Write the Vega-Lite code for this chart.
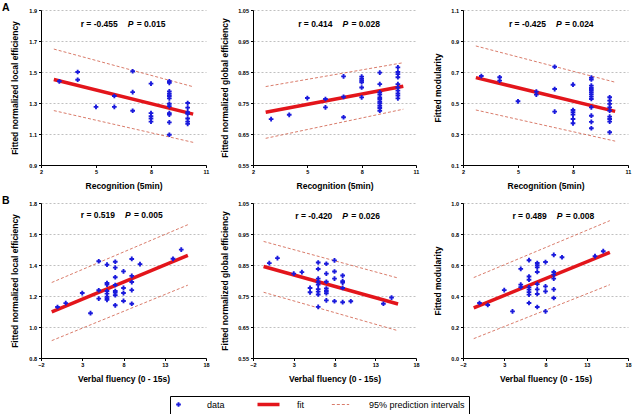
{
  "$schema": "https://vega.github.io/schema/vega-lite/v6.json",
  "padding": {"left": 2, "top": 2, "right": 2, "bottom": 1},
  "autosize": {"type": "pad"},
  "background": "white",
  "config": {
    "font": "Liberation Sans",
    "view": {"stroke": null},
    "axis": {
      "domainColor": "black", "domainWidth": 1, "tickColor": "black", "tickSize": 2.5, "tickWidth": 1,
      "labelFont": "Liberation Sans", "labelFontSize": 5.5, "labelFontWeight": "bold", "labelColor": "black", "labelPadding": 2,
      "labelFlush": false, "labelOverlap": false, "tickCount": 10,
      "titleFont": "Liberation Sans", "titleFontSize": 8.5, "titleFontWeight": "bold", "titleColor": "black",
      "grid": false
    },
    "axisY": {"grid": true, "gridDash": [2, 2], "gridColor": "#b0b0b0", "gridWidth": 0.8, "titlePadding": 8},
    "axisX": {"titlePadding": 6},
    "title": {"font": "Liberation Sans", "fontSize": 10.5, "fontWeight": "bold", "color": "black", "anchor": "start", "frame": "group", "offset": -5}
  },
  "datasets": {
    "points": [
      {"panel": "A1", "x": 3, "y": 1.44},
      {"panel": "A1", "x": 4, "y": 1.50}, {"panel": "A1", "x": 4, "y": 1.45},
      {"panel": "A1", "x": 5, "y": 1.275},
      {"panel": "A1", "x": 6, "y": 1.345}, {"panel": "A1", "x": 6, "y": 1.275},
      {"panel": "A1", "x": 7, "y": 1.505}, {"panel": "A1", "x": 7, "y": 1.37}, {"panel": "A1", "x": 7, "y": 1.25},
      {"panel": "A1", "x": 8, "y": 1.425}, {"panel": "A1", "x": 8, "y": 1.235}, {"panel": "A1", "x": 8, "y": 1.215}, {"panel": "A1", "x": 8, "y": 1.20}, {"panel": "A1", "x": 8, "y": 1.18},
      {"panel": "A1", "x": 9, "y": 1.44}, {"panel": "A1", "x": 9, "y": 1.43}, {"panel": "A1", "x": 9, "y": 1.375}, {"panel": "A1", "x": 9, "y": 1.36}, {"panel": "A1", "x": 9, "y": 1.345}, {"panel": "A1", "x": 9, "y": 1.33}, {"panel": "A1", "x": 9, "y": 1.295}, {"panel": "A1", "x": 9, "y": 1.28}, {"panel": "A1", "x": 9, "y": 1.235}, {"panel": "A1", "x": 9, "y": 1.225}, {"panel": "A1", "x": 9, "y": 1.175}, {"panel": "A1", "x": 9, "y": 1.095},
      {"panel": "A1", "x": 10, "y": 1.30}, {"panel": "A1", "x": 10, "y": 1.27}, {"panel": "A1", "x": 10, "y": 1.24}, {"panel": "A1", "x": 10, "y": 1.23}, {"panel": "A1", "x": 10, "y": 1.20}, {"panel": "A1", "x": 10, "y": 1.18}, {"panel": "A1", "x": 10, "y": 1.165},

      {"panel": "A2", "x": 3, "y": 0.698},
      {"panel": "A2", "x": 4, "y": 0.712},
      {"panel": "A2", "x": 5, "y": 0.766},
      {"panel": "A2", "x": 6, "y": 0.763}, {"panel": "A2", "x": 6, "y": 0.736},
      {"panel": "A2", "x": 7, "y": 0.836}, {"panel": "A2", "x": 7, "y": 0.770}, {"panel": "A2", "x": 7, "y": 0.704},
      {"panel": "A2", "x": 8, "y": 0.835}, {"panel": "A2", "x": 8, "y": 0.828}, {"panel": "A2", "x": 8, "y": 0.822}, {"panel": "A2", "x": 8, "y": 0.817}, {"panel": "A2", "x": 8, "y": 0.800}, {"panel": "A2", "x": 8, "y": 0.768},
      {"panel": "A2", "x": 9, "y": 0.848}, {"panel": "A2", "x": 9, "y": 0.811}, {"panel": "A2", "x": 9, "y": 0.784}, {"panel": "A2", "x": 9, "y": 0.777}, {"panel": "A2", "x": 9, "y": 0.768}, {"panel": "A2", "x": 9, "y": 0.763}, {"panel": "A2", "x": 9, "y": 0.755}, {"panel": "A2", "x": 9, "y": 0.749}, {"panel": "A2", "x": 9, "y": 0.741}, {"panel": "A2", "x": 9, "y": 0.734}, {"panel": "A2", "x": 9, "y": 0.725},
      {"panel": "A2", "x": 10, "y": 0.865}, {"panel": "A2", "x": 10, "y": 0.850}, {"panel": "A2", "x": 10, "y": 0.843}, {"panel": "A2", "x": 10, "y": 0.833}, {"panel": "A2", "x": 10, "y": 0.811}, {"panel": "A2", "x": 10, "y": 0.800}, {"panel": "A2", "x": 10, "y": 0.790}, {"panel": "A2", "x": 10, "y": 0.781}, {"panel": "A2", "x": 10, "y": 0.774}, {"panel": "A2", "x": 10, "y": 0.765},

      {"panel": "A3", "x": 3, "y": 0.674},
      {"panel": "A3", "x": 4, "y": 0.666}, {"panel": "A3", "x": 4, "y": 0.644},
      {"panel": "A3", "x": 5, "y": 0.511},
      {"panel": "A3", "x": 6, "y": 0.573}, {"panel": "A3", "x": 6, "y": 0.554},
      {"panel": "A3", "x": 7, "y": 0.734}, {"panel": "A3", "x": 7, "y": 0.590}, {"panel": "A3", "x": 7, "y": 0.444},
      {"panel": "A3", "x": 8, "y": 0.618}, {"panel": "A3", "x": 8, "y": 0.455}, {"panel": "A3", "x": 8, "y": 0.440}, {"panel": "A3", "x": 8, "y": 0.425}, {"panel": "A3", "x": 8, "y": 0.397}, {"panel": "A3", "x": 8, "y": 0.369},
      {"panel": "A3", "x": 9, "y": 0.664}, {"panel": "A3", "x": 9, "y": 0.652}, {"panel": "A3", "x": 9, "y": 0.612}, {"panel": "A3", "x": 9, "y": 0.597}, {"panel": "A3", "x": 9, "y": 0.584}, {"panel": "A3", "x": 9, "y": 0.569}, {"panel": "A3", "x": 9, "y": 0.556}, {"panel": "A3", "x": 9, "y": 0.541}, {"panel": "A3", "x": 9, "y": 0.526}, {"panel": "A3", "x": 9, "y": 0.472}, {"panel": "A3", "x": 9, "y": 0.418}, {"panel": "A3", "x": 9, "y": 0.378}, {"panel": "A3", "x": 9, "y": 0.337},
      {"panel": "A3", "x": 10, "y": 0.537}, {"panel": "A3", "x": 10, "y": 0.515}, {"panel": "A3", "x": 10, "y": 0.494}, {"panel": "A3", "x": 10, "y": 0.472}, {"panel": "A3", "x": 10, "y": 0.451}, {"panel": "A3", "x": 10, "y": 0.412}, {"panel": "A3", "x": 10, "y": 0.397}, {"panel": "A3", "x": 10, "y": 0.380}, {"panel": "A3", "x": 10, "y": 0.311},

      {"panel": "B1", "x": 0, "y": 1.129}, {"panel": "B1", "x": 1, "y": 1.154}, {"panel": "B1", "x": 3, "y": 1.219}, {"panel": "B1", "x": 4, "y": 1.089},
      {"panel": "B1", "x": 5, "y": 1.424}, {"panel": "B1", "x": 5, "y": 1.237}, {"panel": "B1", "x": 5, "y": 1.183},
      {"panel": "B1", "x": 6, "y": 1.402}, {"panel": "B1", "x": 6, "y": 1.284}, {"panel": "B1", "x": 6, "y": 1.273}, {"panel": "B1", "x": 6, "y": 1.232}, {"panel": "B1", "x": 6, "y": 1.215}, {"panel": "B1", "x": 6, "y": 1.195}, {"panel": "B1", "x": 6, "y": 1.185}, {"panel": "B1", "x": 6, "y": 1.175},
      {"panel": "B1", "x": 7, "y": 1.421}, {"panel": "B1", "x": 7, "y": 1.383}, {"panel": "B1", "x": 7, "y": 1.321}, {"panel": "B1", "x": 7, "y": 1.271}, {"panel": "B1", "x": 7, "y": 1.232}, {"panel": "B1", "x": 7, "y": 1.222}, {"panel": "B1", "x": 7, "y": 1.205}, {"panel": "B1", "x": 7, "y": 1.140},
      {"panel": "B1", "x": 8, "y": 1.359}, {"panel": "B1", "x": 8, "y": 1.252}, {"panel": "B1", "x": 8, "y": 1.219}, {"panel": "B1", "x": 8, "y": 1.168},
      {"panel": "B1", "x": 9, "y": 1.439}, {"panel": "B1", "x": 9, "y": 1.330}, {"panel": "B1", "x": 9, "y": 1.290}, {"panel": "B1", "x": 9, "y": 1.238}, {"panel": "B1", "x": 9, "y": 1.150},
      {"panel": "B1", "x": 10, "y": 1.406}, {"panel": "B1", "x": 14, "y": 1.440}, {"panel": "B1", "x": 15, "y": 1.499},

      {"panel": "B2", "x": 0, "y": 0.856}, {"panel": "B2", "x": 1, "y": 0.872}, {"panel": "B2", "x": 3, "y": 0.822}, {"panel": "B2", "x": 4, "y": 0.827},
      {"panel": "B2", "x": 5, "y": 0.776}, {"panel": "B2", "x": 5, "y": 0.762},
      {"panel": "B2", "x": 6, "y": 0.858}, {"panel": "B2", "x": 6, "y": 0.837}, {"panel": "B2", "x": 6, "y": 0.806}, {"panel": "B2", "x": 6, "y": 0.796}, {"panel": "B2", "x": 6, "y": 0.787}, {"panel": "B2", "x": 6, "y": 0.772}, {"panel": "B2", "x": 6, "y": 0.764}, {"panel": "B2", "x": 6, "y": 0.755}, {"panel": "B2", "x": 6, "y": 0.715},
      {"panel": "B2", "x": 7, "y": 0.854}, {"panel": "B2", "x": 7, "y": 0.822}, {"panel": "B2", "x": 7, "y": 0.796}, {"panel": "B2", "x": 7, "y": 0.774}, {"panel": "B2", "x": 7, "y": 0.766}, {"panel": "B2", "x": 7, "y": 0.759}, {"panel": "B2", "x": 7, "y": 0.736},
      {"panel": "B2", "x": 8, "y": 0.865}, {"panel": "B2", "x": 8, "y": 0.829}, {"panel": "B2", "x": 8, "y": 0.806}, {"panel": "B2", "x": 8, "y": 0.733},
      {"panel": "B2", "x": 9, "y": 0.816}, {"panel": "B2", "x": 9, "y": 0.798}, {"panel": "B2", "x": 9, "y": 0.793}, {"panel": "B2", "x": 9, "y": 0.776}, {"panel": "B2", "x": 9, "y": 0.730},
      {"panel": "B2", "x": 10, "y": 0.733}, {"panel": "B2", "x": 14, "y": 0.725}, {"panel": "B2", "x": 15, "y": 0.745},

      {"panel": "B3", "x": 0, "y": 0.355}, {"panel": "B3", "x": 1, "y": 0.342}, {"panel": "B3", "x": 3, "y": 0.438}, {"panel": "B3", "x": 4, "y": 0.301},
      {"panel": "B3", "x": 5, "y": 0.575}, {"panel": "B3", "x": 5, "y": 0.473}, {"panel": "B3", "x": 5, "y": 0.457},
      {"panel": "B3", "x": 6, "y": 0.631}, {"panel": "B3", "x": 6, "y": 0.526}, {"panel": "B3", "x": 6, "y": 0.505}, {"panel": "B3", "x": 6, "y": 0.456}, {"panel": "B3", "x": 6, "y": 0.441}, {"panel": "B3", "x": 6, "y": 0.425}, {"panel": "B3", "x": 6, "y": 0.409}, {"panel": "B3", "x": 6, "y": 0.355},
      {"panel": "B3", "x": 7, "y": 0.613}, {"panel": "B3", "x": 7, "y": 0.598}, {"panel": "B3", "x": 7, "y": 0.585}, {"panel": "B3", "x": 7, "y": 0.555}, {"panel": "B3", "x": 7, "y": 0.477}, {"panel": "B3", "x": 7, "y": 0.443}, {"panel": "B3", "x": 7, "y": 0.413}, {"panel": "B3", "x": 7, "y": 0.329},
      {"panel": "B3", "x": 8, "y": 0.619}, {"panel": "B3", "x": 8, "y": 0.462}, {"panel": "B3", "x": 8, "y": 0.430}, {"panel": "B3", "x": 8, "y": 0.301},
      {"panel": "B3", "x": 9, "y": 0.665}, {"panel": "B3", "x": 9, "y": 0.555}, {"panel": "B3", "x": 9, "y": 0.538}, {"panel": "B3", "x": 9, "y": 0.512}, {"panel": "B3", "x": 9, "y": 0.443}, {"panel": "B3", "x": 9, "y": 0.387},
      {"panel": "B3", "x": 10, "y": 0.650}, {"panel": "B3", "x": 14, "y": 0.657}, {"panel": "B3", "x": 15, "y": 0.689}
    ],
    "lines": [
      {"panel": "A1", "band": "fit", "x": 2.7, "y": 1.452}, {"panel": "A1", "band": "fit", "x": 10.3, "y": 1.228},
      {"panel": "A1", "band": "upper", "x": 2.7, "y": 1.648}, {"panel": "A1", "band": "upper", "x": 10.3, "y": 1.405},
      {"panel": "A1", "band": "lower", "x": 2.7, "y": 1.251}, {"panel": "A1", "band": "lower", "x": 10.3, "y": 1.046},
      {"panel": "A2", "band": "fit", "x": 2.7, "y": 0.720}, {"panel": "A2", "band": "fit", "x": 10.3, "y": 0.804},
      {"panel": "A2", "band": "upper", "x": 2.7, "y": 0.803}, {"panel": "A2", "band": "upper", "x": 10.3, "y": 0.880},
      {"panel": "A2", "band": "lower", "x": 2.7, "y": 0.636}, {"panel": "A2", "band": "lower", "x": 10.3, "y": 0.730},
      {"panel": "A3", "band": "fit", "x": 2.7, "y": 0.664}, {"panel": "A3", "band": "fit", "x": 10.3, "y": 0.446},
      {"panel": "A3", "band": "upper", "x": 2.7, "y": 0.868}, {"panel": "A3", "band": "upper", "x": 10.3, "y": 0.634},
      {"panel": "A3", "band": "lower", "x": 2.7, "y": 0.455}, {"panel": "A3", "band": "lower", "x": 10.3, "y": 0.254},
      {"panel": "B1", "band": "fit", "x": -0.7, "y": 1.098}, {"panel": "B1", "band": "fit", "x": 15.8, "y": 1.462},
      {"panel": "B1", "band": "upper", "x": -0.7, "y": 1.287}, {"panel": "B1", "band": "upper", "x": 15.8, "y": 1.660},
      {"panel": "B1", "band": "lower", "x": -0.7, "y": 0.912}, {"panel": "B1", "band": "lower", "x": 15.8, "y": 1.270},
      {"panel": "B2", "band": "fit", "x": -0.7, "y": 0.845}, {"panel": "B2", "band": "fit", "x": 15.8, "y": 0.724},
      {"panel": "B2", "band": "upper", "x": -0.7, "y": 0.926}, {"panel": "B2", "band": "upper", "x": 15.8, "y": 0.808},
      {"panel": "B2", "band": "lower", "x": -0.7, "y": 0.762}, {"panel": "B2", "band": "lower", "x": 15.8, "y": 0.638},
      {"panel": "B3", "band": "fit", "x": -0.7, "y": 0.324}, {"panel": "B3", "band": "fit", "x": 15.8, "y": 0.681},
      {"panel": "B3", "band": "upper", "x": -0.7, "y": 0.519}, {"panel": "B3", "band": "upper", "x": 15.8, "y": 0.886},
      {"panel": "B3", "band": "lower", "x": -0.7, "y": 0.125}, {"panel": "B3", "band": "lower", "x": 15.8, "y": 0.473}
    ],
    "stats": [
      {"panel": "A1", "r": "r = -0.455", "p": "= 0.015"},
      {"panel": "A2", "r": "r = 0.414", "p": "= 0.028"},
      {"panel": "A3", "r": "r = -0.425", "p": "= 0.024"},
      {"panel": "B1", "r": "r = 0.519", "p": "= 0.005"},
      {"panel": "B2", "r": "r = -0.420", "p": "= 0.026"},
      {"panel": "B3", "r": "r = 0.489", "p": "= 0.008"}
    ]
  },
  "resolve": {"scale": {"color": "shared", "x": "independent", "y": "independent"}, "legend": {"color": "shared"}},
  "spacing": 5,
  "vconcat": [
    {
      "title": {"text": "A", "dx": -39},
      "bounds": "flush",
      "spacing": 47,
      "resolve": {"scale": {"color": "shared", "x": "independent", "y": "independent"}, "legend": {"color": "shared"}},
      "hconcat": [
        {
          "width": 165, "height": 155,
          "layer": [
            {"data": {"name": "lines"}, "transform": [{"filter": "datum.panel === 'A1' && datum.band !== 'fit'"}],
             "mark": {"type": "line", "strokeWidth": 0.8, "strokeDash": [3, 2]},
             "encoding": {
               "x": {"field": "x", "type": "quantitative", "scale": {"domain": [2, 11], "nice": false, "zero": false}, "axis": {"values": [2, 5, 8, 11], "tickCount": 10, "title": "Recognition (5min)"}},
               "y": {"field": "y", "type": "quantitative", "scale": {"domain": [0.9, 1.9], "nice": false, "zero": false}, "axis": {"values": [0.9, 1.1, 1.3, 1.5, 1.7, 1.9], "tickCount": 10, "format": ".1f", "title": "Fitted normalized local efficiency", "titlePadding": 9}},
               "detail": {"field": "band"},
               "color": {"datum": "95% prediction intervals", "scale": {"domain": ["data", "fit", "95% prediction intervals"], "range": ["#1a1adc", "#e3151b", "#cf5a45"]},
                 "legend": {
                   "title": null, "orient": "none", "legendX": 129, "legendY": 386, "direction": "horizontal", "columns": 3,
                   "strokeColor": "black", "padding": 4, "labelFont": "Liberation Sans", "labelFontSize": 9, "labelColor": "black",
                   "symbolSize": 484, "labelOffset": 24, "columnPadding": 25, "gridAlign": "none",
                   "encode": {"symbols": {"update": {
                     "shape": {"signal": "datum.value === 'data' ? 'cross' : 'stroke'"},
                     "size": {"signal": "datum.value === 'data' ? 22 : (datum.value === 'fit' ? 484 : 300)"},
                     "strokeWidth": {"signal": "datum.value === 'fit' ? 3.5 : (datum.value === 'data' ? 0 : 0.8)"},
                     "strokeDash": {"signal": "datum.value === '95% prediction intervals' ? [3, 2] : [1, 0]"},
                     "fill": {"signal": "datum.value === 'data' ? '#1a1adc' : 'transparent'"},
                     "stroke": {"signal": "datum.value === 'data' ? 'transparent' : (datum.value === 'fit' ? '#e3151b' : '#cf5a45')"},
                     "opacity": {"value": 1}
                   }}}
                 }}
             }},
            {"data": {"name": "lines"}, "transform": [{"filter": "datum.panel === 'A1' && datum.band === 'fit'"}],
             "mark": {"type": "line", "strokeWidth": 3.5},
             "encoding": {
               "x": {"field": "x", "type": "quantitative"},
               "y": {"field": "y", "type": "quantitative"},
               "color": {"datum": "fit"}
             }},
            {"data": {"name": "points"}, "transform": [{"filter": "datum.panel === 'A1'"}],
             "mark": {"type": "point", "shape": "cross", "filled": true, "size": 22, "opacity": 1},
             "encoding": {
               "x": {"field": "x", "type": "quantitative"},
               "y": {"field": "y", "type": "quantitative"},
               "color": {"datum": "data"}
             }},
            {"data": {"name": "stats"}, "transform": [{"filter": "datum.panel === 'A1'"}],
             "mark": {"type": "text", "align": "right", "baseline": "middle", "dx": -5, "fontSize": 8.5, "fontWeight": "bold", "color": "black"},
             "encoding": {"x": {"datum": 6.46}, "y": {"datum": 1.81}, "text": {"field": "r"}}},
            {"data": {"name": "stats"}, "transform": [{"filter": "datum.panel === 'A1'"}],
             "mark": {"type": "text", "align": "left", "baseline": "middle", "dx": 5, "fontSize": 8.5, "fontWeight": "bold", "fontStyle": "italic", "color": "black"},
             "encoding": {"x": {"datum": 6.46}, "y": {"datum": 1.81}, "text": {"value": "P"}}},
            {"data": {"name": "stats"}, "transform": [{"filter": "datum.panel === 'A1'"}],
             "mark": {"type": "text", "align": "left", "baseline": "middle", "dx": 14, "fontSize": 8.5, "fontWeight": "bold", "color": "black"},
             "encoding": {"x": {"datum": 6.46}, "y": {"datum": 1.81}, "text": {"field": "p"}}}
          ]
        },
        {
          "width": 163, "height": 155,
          "layer": [
            {"data": {"name": "lines"}, "transform": [{"filter": "datum.panel === 'A2' && datum.band !== 'fit'"}],
             "mark": {"type": "line", "strokeWidth": 0.8, "strokeDash": [3, 2]},
             "encoding": {
               "x": {"field": "x", "type": "quantitative", "scale": {"domain": [2, 11], "nice": false, "zero": false}, "axis": {"values": [2, 5, 8, 11], "tickCount": 10, "title": "Recognition (5min)"}},
               "y": {"field": "y", "type": "quantitative", "scale": {"domain": [0.55, 1.05], "nice": false, "zero": false}, "axis": {"values": [0.55, 0.65, 0.75, 0.85, 0.95, 1.05], "tickCount": 10, "format": ".2f", "title": "Fitted normalized global efficiency", "titlePadding": 8}},
               "detail": {"field": "band"},
               "color": {"datum": "95% prediction intervals"}
             }},
            {"data": {"name": "lines"}, "transform": [{"filter": "datum.panel === 'A2' && datum.band === 'fit'"}],
             "mark": {"type": "line", "strokeWidth": 3.5},
             "encoding": {"x": {"field": "x", "type": "quantitative"}, "y": {"field": "y", "type": "quantitative"}, "color": {"datum": "fit"}}},
            {"data": {"name": "points"}, "transform": [{"filter": "datum.panel === 'A2'"}],
             "mark": {"type": "point", "shape": "cross", "filled": true, "size": 22, "opacity": 1},
             "encoding": {"x": {"field": "x", "type": "quantitative"}, "y": {"field": "y", "type": "quantitative"}, "color": {"datum": "data"}}},
            {"data": {"name": "stats"}, "transform": [{"filter": "datum.panel === 'A2'"}],
             "mark": {"type": "text", "align": "right", "baseline": "middle", "dx": -5, "fontSize": 8.5, "fontWeight": "bold", "color": "black"},
             "encoding": {"x": {"datum": 6.66}, "y": {"datum": 1.005}, "text": {"field": "r"}}},
            {"data": {"name": "stats"}, "transform": [{"filter": "datum.panel === 'A2'"}],
             "mark": {"type": "text", "align": "left", "baseline": "middle", "dx": 5, "fontSize": 8.5, "fontWeight": "bold", "fontStyle": "italic", "color": "black"},
             "encoding": {"x": {"datum": 6.66}, "y": {"datum": 1.005}, "text": {"value": "P"}}},
            {"data": {"name": "stats"}, "transform": [{"filter": "datum.panel === 'A2'"}],
             "mark": {"type": "text", "align": "left", "baseline": "middle", "dx": 14, "fontSize": 8.5, "fontWeight": "bold", "color": "black"},
             "encoding": {"x": {"datum": 6.66}, "y": {"datum": 1.005}, "text": {"field": "p"}}}
          ]
        },
        {
          "width": 165, "height": 155,
          "layer": [
            {"data": {"name": "lines"}, "transform": [{"filter": "datum.panel === 'A3' && datum.band !== 'fit'"}],
             "mark": {"type": "line", "strokeWidth": 0.8, "strokeDash": [3, 2]},
             "encoding": {
               "x": {"field": "x", "type": "quantitative", "scale": {"domain": [2, 11], "nice": false, "zero": false}, "axis": {"values": [2, 5, 8, 11], "tickCount": 10, "title": "Recognition (5min)"}},
               "y": {"field": "y", "type": "quantitative", "scale": {"domain": [0.1, 1.1], "nice": false, "zero": false}, "axis": {"values": [0.1, 0.3, 0.5, 0.7, 0.9, 1.1], "tickCount": 10, "format": ".1f", "title": "Fitted modularity", "titlePadding": 8}},
               "detail": {"field": "band"},
               "color": {"datum": "95% prediction intervals"}
             }},
            {"data": {"name": "lines"}, "transform": [{"filter": "datum.panel === 'A3' && datum.band === 'fit'"}],
             "mark": {"type": "line", "strokeWidth": 3.5},
             "encoding": {"x": {"field": "x", "type": "quantitative"}, "y": {"field": "y", "type": "quantitative"}, "color": {"datum": "fit"}}},
            {"data": {"name": "points"}, "transform": [{"filter": "datum.panel === 'A3'"}],
             "mark": {"type": "point", "shape": "cross", "filled": true, "size": 22, "opacity": 1},
             "encoding": {"x": {"field": "x", "type": "quantitative"}, "y": {"field": "y", "type": "quantitative"}, "color": {"datum": "data"}}},
            {"data": {"name": "stats"}, "transform": [{"filter": "datum.panel === 'A3'"}],
             "mark": {"type": "text", "align": "right", "baseline": "middle", "dx": -5, "fontSize": 8.5, "fontWeight": "bold", "color": "black"},
             "encoding": {"x": {"datum": 6.80}, "y": {"datum": 1.01}, "text": {"field": "r"}}},
            {"data": {"name": "stats"}, "transform": [{"filter": "datum.panel === 'A3'"}],
             "mark": {"type": "text", "align": "left", "baseline": "middle", "dx": 5, "fontSize": 8.5, "fontWeight": "bold", "fontStyle": "italic", "color": "black"},
             "encoding": {"x": {"datum": 6.80}, "y": {"datum": 1.01}, "text": {"value": "P"}}},
            {"data": {"name": "stats"}, "transform": [{"filter": "datum.panel === 'A3'"}],
             "mark": {"type": "text", "align": "left", "baseline": "middle", "dx": 14, "fontSize": 8.5, "fontWeight": "bold", "color": "black"},
             "encoding": {"x": {"datum": 6.80}, "y": {"datum": 1.01}, "text": {"field": "p"}}}
          ]
        }
      ]
    },
    {
      "title": {"text": "B", "dx": -39},
      "bounds": "flush",
      "spacing": 47,
      "resolve": {"scale": {"color": "shared", "x": "independent", "y": "independent"}, "legend": {"color": "shared"}},
      "hconcat": [
        {
          "width": 165, "height": 155,
          "layer": [
            {"data": {"name": "lines"}, "transform": [{"filter": "datum.panel === 'B1' && datum.band !== 'fit'"}],
             "mark": {"type": "line", "strokeWidth": 0.8, "strokeDash": [3, 2]},
             "encoding": {
               "x": {"field": "x", "type": "quantitative", "scale": {"domain": [-2, 18], "nice": false, "zero": false}, "axis": {"values": [-2, 3, 8, 13, 18], "tickCount": 10, "title": "Verbal fluency (0 - 15s)"}},
               "y": {"field": "y", "type": "quantitative", "scale": {"domain": [0.8, 1.8], "nice": false, "zero": false}, "axis": {"values": [0.8, 1.0, 1.2, 1.4, 1.6, 1.8], "tickCount": 10, "format": ".1f", "title": "Fitted normalized local efficiency", "titlePadding": 9}},
               "detail": {"field": "band"},
               "color": {"datum": "95% prediction intervals"}
             }},
            {"data": {"name": "lines"}, "transform": [{"filter": "datum.panel === 'B1' && datum.band === 'fit'"}],
             "mark": {"type": "line", "strokeWidth": 3.5},
             "encoding": {"x": {"field": "x", "type": "quantitative"}, "y": {"field": "y", "type": "quantitative"}, "color": {"datum": "fit"}}},
            {"data": {"name": "points"}, "transform": [{"filter": "datum.panel === 'B1'"}],
             "mark": {"type": "point", "shape": "cross", "filled": true, "size": 22, "opacity": 1},
             "encoding": {"x": {"field": "x", "type": "quantitative"}, "y": {"field": "y", "type": "quantitative"}, "color": {"datum": "data"}}},
            {"data": {"name": "stats"}, "transform": [{"filter": "datum.panel === 'B1'"}],
             "mark": {"type": "text", "align": "right", "baseline": "middle", "dx": -5, "fontSize": 8.5, "fontWeight": "bold", "color": "black"},
             "encoding": {"x": {"datum": 7.58}, "y": {"datum": 1.72}, "text": {"field": "r"}}},
            {"data": {"name": "stats"}, "transform": [{"filter": "datum.panel === 'B1'"}],
             "mark": {"type": "text", "align": "left", "baseline": "middle", "dx": 5, "fontSize": 8.5, "fontWeight": "bold", "fontStyle": "italic", "color": "black"},
             "encoding": {"x": {"datum": 7.58}, "y": {"datum": 1.72}, "text": {"value": "P"}}},
            {"data": {"name": "stats"}, "transform": [{"filter": "datum.panel === 'B1'"}],
             "mark": {"type": "text", "align": "left", "baseline": "middle", "dx": 14, "fontSize": 8.5, "fontWeight": "bold", "color": "black"},
             "encoding": {"x": {"datum": 7.58}, "y": {"datum": 1.72}, "text": {"field": "p"}}}
          ]
        },
        {
          "width": 163, "height": 155,
          "layer": [
            {"data": {"name": "lines"}, "transform": [{"filter": "datum.panel === 'B2' && datum.band !== 'fit'"}],
             "mark": {"type": "line", "strokeWidth": 0.8, "strokeDash": [3, 2]},
             "encoding": {
               "x": {"field": "x", "type": "quantitative", "scale": {"domain": [-2, 18], "nice": false, "zero": false}, "axis": {"values": [-2, 3, 8, 13, 18], "tickCount": 10, "title": "Verbal fluency (0 - 15s)"}},
               "y": {"field": "y", "type": "quantitative", "scale": {"domain": [0.55, 1.05], "nice": false, "zero": false}, "axis": {"values": [0.55, 0.65, 0.75, 0.85, 0.95, 1.05], "tickCount": 10, "format": ".2f", "title": "Fitted normalized global efficiency", "titlePadding": 8}},
               "detail": {"field": "band"},
               "color": {"datum": "95% prediction intervals"}
             }},
            {"data": {"name": "lines"}, "transform": [{"filter": "datum.panel === 'B2' && datum.band === 'fit'"}],
             "mark": {"type": "line", "strokeWidth": 3.5},
             "encoding": {"x": {"field": "x", "type": "quantitative"}, "y": {"field": "y", "type": "quantitative"}, "color": {"datum": "fit"}}},
            {"data": {"name": "points"}, "transform": [{"filter": "datum.panel === 'B2'"}],
             "mark": {"type": "point", "shape": "cross", "filled": true, "size": 22, "opacity": 1},
             "encoding": {"x": {"field": "x", "type": "quantitative"}, "y": {"field": "y", "type": "quantitative"}, "color": {"datum": "data"}}},
            {"data": {"name": "stats"}, "transform": [{"filter": "datum.panel === 'B2'"}],
             "mark": {"type": "text", "align": "right", "baseline": "middle", "dx": -5, "fontSize": 8.5, "fontWeight": "bold", "color": "black"},
             "encoding": {"x": {"datum": 8.35}, "y": {"datum": 1.009}, "text": {"field": "r"}}},
            {"data": {"name": "stats"}, "transform": [{"filter": "datum.panel === 'B2'"}],
             "mark": {"type": "text", "align": "left", "baseline": "middle", "dx": 5, "fontSize": 8.5, "fontWeight": "bold", "fontStyle": "italic", "color": "black"},
             "encoding": {"x": {"datum": 8.35}, "y": {"datum": 1.009}, "text": {"value": "P"}}},
            {"data": {"name": "stats"}, "transform": [{"filter": "datum.panel === 'B2'"}],
             "mark": {"type": "text", "align": "left", "baseline": "middle", "dx": 14, "fontSize": 8.5, "fontWeight": "bold", "color": "black"},
             "encoding": {"x": {"datum": 8.35}, "y": {"datum": 1.009}, "text": {"field": "p"}}}
          ]
        },
        {
          "width": 165, "height": 155,
          "layer": [
            {"data": {"name": "lines"}, "transform": [{"filter": "datum.panel === 'B3' && datum.band !== 'fit'"}],
             "mark": {"type": "line", "strokeWidth": 0.8, "strokeDash": [3, 2]},
             "encoding": {
               "x": {"field": "x", "type": "quantitative", "scale": {"domain": [-2, 18], "nice": false, "zero": false}, "axis": {"values": [-2, 3, 8, 13, 18], "tickCount": 10, "title": "Verbal fluency (0 - 15s)"}},
               "y": {"field": "y", "type": "quantitative", "scale": {"domain": [0, 1], "nice": false, "zero": false}, "axis": {"values": [0, 0.2, 0.4, 0.6, 0.8, 1.0], "tickCount": 10, "format": ".1f", "title": "Fitted modularity", "titlePadding": 8}},
               "detail": {"field": "band"},
               "color": {"datum": "95% prediction intervals"}
             }},
            {"data": {"name": "lines"}, "transform": [{"filter": "datum.panel === 'B3' && datum.band === 'fit'"}],
             "mark": {"type": "line", "strokeWidth": 3.5},
             "encoding": {"x": {"field": "x", "type": "quantitative"}, "y": {"field": "y", "type": "quantitative"}, "color": {"datum": "fit"}}},
            {"data": {"name": "points"}, "transform": [{"filter": "datum.panel === 'B3'"}],
             "mark": {"type": "point", "shape": "cross", "filled": true, "size": 22, "opacity": 1},
             "encoding": {"x": {"field": "x", "type": "quantitative"}, "y": {"field": "y", "type": "quantitative"}, "color": {"datum": "data"}}},
            {"data": {"name": "stats"}, "transform": [{"filter": "datum.panel === 'B3'"}],
             "mark": {"type": "text", "align": "right", "baseline": "middle", "dx": -5, "fontSize": 8.5, "fontWeight": "bold", "color": "black"},
             "encoding": {"x": {"datum": 8.75}, "y": {"datum": 0.919}, "text": {"field": "r"}}},
            {"data": {"name": "stats"}, "transform": [{"filter": "datum.panel === 'B3'"}],
             "mark": {"type": "text", "align": "left", "baseline": "middle", "dx": 5, "fontSize": 8.5, "fontWeight": "bold", "fontStyle": "italic", "color": "black"},
             "encoding": {"x": {"datum": 8.75}, "y": {"datum": 0.919}, "text": {"value": "P"}}},
            {"data": {"name": "stats"}, "transform": [{"filter": "datum.panel === 'B3'"}],
             "mark": {"type": "text", "align": "left", "baseline": "middle", "dx": 14, "fontSize": 8.5, "fontWeight": "bold", "color": "black"},
             "encoding": {"x": {"datum": 8.75}, "y": {"datum": 0.919}, "text": {"field": "p"}}}
          ]
        }
      ]
    }
  ]
}
